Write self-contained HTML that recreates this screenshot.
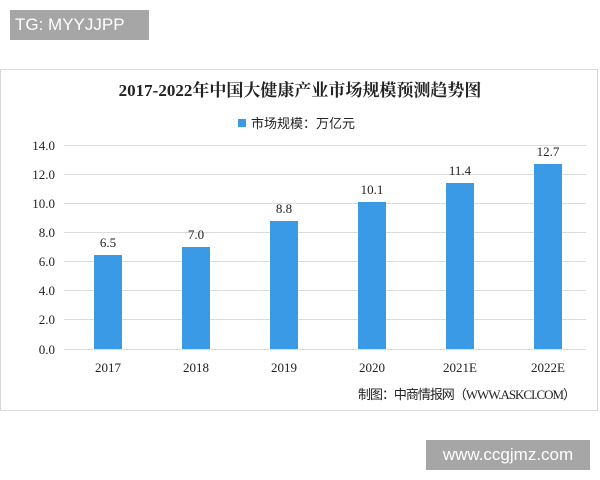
<!DOCTYPE html>
<html><head><meta charset="utf-8"><style>
body{margin:0;width:600px;height:480px;background:#fff;position:relative;overflow:hidden;font-family:"Liberation Serif","Noto Serif CJK SC",serif}
.tg{position:absolute;left:10px;top:10px;width:139px;height:30px;background:#a6a6a6;color:#fff;font:17px "Liberation Sans",sans-serif;line-height:30px;padding-left:5px;box-sizing:border-box}
.ww{position:absolute;left:426px;top:440px;width:164px;height:30px;background:#a6a6a6;color:#fff;font:17px "Liberation Sans",sans-serif;line-height:30px;text-align:center}
</style></head><body>
<div class="tg">TG: MYYJJPP</div>
<svg width="600" height="480" style="position:absolute;left:0;top:0">
<rect x="0.5" y="69.5" width="597" height="341" fill="#fff" stroke="#d8d8d8"/>
<text x="300" y="96" text-anchor="middle" font-size="17" font-weight="bold" font-family="Liberation Serif,Noto Serif CJK SC,serif" fill="#222">2017-2022年中国大健康产业市场规模预测趋势图</text>
<rect x="238" y="119" width="8" height="8" fill="#3a9ae5"/>
<text x="251" y="128" font-size="13" font-family="Liberation Sans,Noto Sans CJK SC,sans-serif" fill="#222">市场规模：万亿元</text>
<g stroke="#dcdcdc" stroke-width="1">
<line x1="64" x2="586" y1="145.5" y2="145.5"/><line x1="64" x2="586" y1="174.5" y2="174.5"/>
<line x1="64" x2="586" y1="203.5" y2="203.5"/><line x1="64" x2="586" y1="232.5" y2="232.5"/>
<line x1="64" x2="586" y1="261.5" y2="261.5"/><line x1="64" x2="586" y1="290.5" y2="290.5"/>
<line x1="64" x2="586" y1="319.5" y2="319.5"/><line x1="64" x2="586" y1="349.5" y2="349.5"/>
</g>
<g font-size="13" fill="#222" text-anchor="end">
<text x="55" y="150">14.0</text><text x="55" y="179">12.0</text><text x="55" y="208">10.0</text>
<text x="55" y="237">8.0</text><text x="55" y="266">6.0</text><text x="55" y="295">4.0</text>
<text x="55" y="324">2.0</text><text x="55" y="354">0.0</text>
</g>
<g fill="#3a9ae5">
<rect x="94" y="255" width="28" height="94"/>
<rect x="182" y="247" width="28" height="102"/>
<rect x="270" y="221" width="28" height="128"/>
<rect x="358" y="202" width="28" height="147"/>
<rect x="446" y="183" width="28" height="166"/>
<rect x="534" y="164" width="28" height="185"/>
</g>
<g font-size="13" fill="#222" text-anchor="middle">
<text x="108" y="247">6.5</text><text x="196" y="239">7.0</text><text x="284" y="213">8.8</text>
<text x="372" y="194">10.1</text><text x="460" y="175">11.4</text><text x="548" y="156">12.7</text>
<text x="108" y="372">2017</text><text x="196" y="372">2018</text><text x="284" y="372">2019</text>
<text x="372" y="372">2020</text><text x="460" y="372">2021E</text><text x="548" y="372">2022E</text>
</g>
<text x="358" y="399" font-size="13" font-family="Liberation Serif,Noto Sans CJK SC,serif" fill="#222" textLength="218">制图：中商情报网（WWW.ASKCI.COM）</text>
</svg>
<div class="ww">www.ccgjmz.com</div>
</body></html>
